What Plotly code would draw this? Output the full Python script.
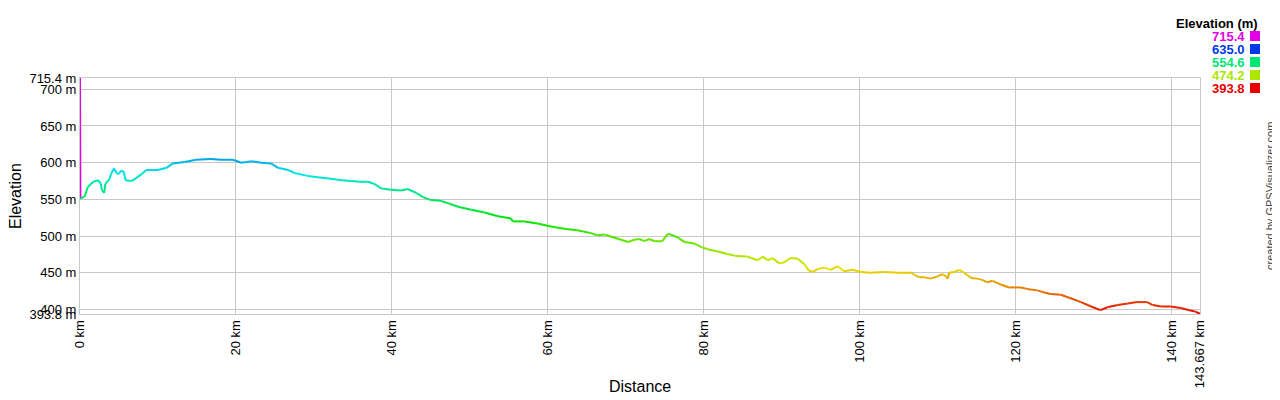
import plotly.graph_objects as go
from plotly.colors import sample_colorscale

# ---- data (distance in km, elevation in m) ----
distance_km = [0.0, 0.05, 0.6, 1.0, 1.7, 2.3, 2.65, 2.8, 3.1, 3.25, 3.8, 4.0, 4.35, 4.65, 4.85,
               5.3, 5.6, 5.85, 6.6, 7.2, 7.85, 8.5, 10.0, 11.1, 11.9, 13.4, 14.9, 16.8, 18.1,
               19.6, 20.7, 22.0, 23.2, 24.5, 25.4, 26.7, 27.5, 29.2, 30.5, 32.2, 33.5, 34.8,
               35.9, 36.9, 37.8, 38.6, 39.9, 41.2, 42.05, 43.1, 44.0, 45.0, 46.3, 47.4, 48.5,
               50.2, 51.9, 53.6, 55.3, 55.5, 57.0, 58.7, 60.4, 62.1, 63.8, 65.55, 66.4, 67.3,
               68.5, 70.3, 71.1, 71.75, 72.4, 73.0, 73.7, 74.7, 75.4, 75.8, 76.7, 77.5, 78.8,
               79.7, 80.5, 81.8, 82.9, 84.1, 85.6, 86.9, 87.6, 88.2, 88.8, 89.7, 90.3, 91.1,
               92.05, 92.9, 93.5, 94.0, 94.6, 95.5, 96.3, 97.2, 98.0, 99.1, 100.2, 101.4,
               103.2, 104.9, 106.6, 107.2, 107.65, 108.3, 109.1, 110.0, 110.6, 111.1, 111.3,
               111.5, 112.15, 112.8, 113.4, 114.3, 115.1, 115.8, 116.4, 117.05, 118.1, 119.2,
               120.7, 121.5, 122.8, 123.7, 124.5, 125.8, 126.9, 128.4, 129.7, 130.9, 131.8,
               133.1, 134.4, 135.6, 136.9, 137.6, 138.7, 139.9, 141.2, 142.3, 143.1, 143.667]
elevation_m = [715.4, 551, 554, 567, 574, 576, 572, 563, 559, 571, 578, 585, 592, 587, 584,
               589, 588, 576, 575, 579, 584, 590, 590, 593, 599, 601, 604, 605, 604,
               604, 600, 602, 600, 599, 593, 590, 586, 582, 580, 578, 576, 575,
               574, 574, 571, 565, 563, 562, 564, 559, 553, 549, 548, 544, 540,
               536, 532, 527, 524, 520, 520, 517, 513, 510, 508, 504, 501, 502,
               498, 492, 495, 496, 493, 496, 493, 493, 503, 502, 498, 492, 490,
               485, 482, 479, 476, 473, 472, 467, 472, 467, 470, 463, 464, 470,
               469, 462, 453, 451, 455, 457, 454, 459, 452, 454, 451, 450,
               451, 450, 450, 446, 444, 444, 442, 445, 448, 445, 442,
               450, 451, 454, 450, 443, 442, 440, 437, 439, 434, 430,
               430, 428, 426, 423, 421, 420, 416, 410, 404, 399, 403,
               406, 408, 410, 410, 406, 404, 404, 402, 399, 397, 393.8]

elev_min = 393.8
elev_max = 715.4
legend_values = [715.4, 635.0, 554.6, 474.2, 393.8]
y_tick_vals = [393.8, 400, 450, 500, 550, 600, 650, 700, 715.4]
y_tick_text = ["393.8 m", "400 m", "450 m", "500 m", "550 m", "600 m", "650 m", "700 m", "715.4 m"]
x_tick_vals = [0, 20, 40, 60, 80, 100, 120, 140, 143.667]
x_tick_text = ["0 km", "20 km", "40 km", "60 km", "80 km", "100 km", "120 km", "140 km", "143.667 km"]

# hue-wheel colour scale: red -> yellow -> green -> cyan -> blue -> magenta
colorscale = [
    [0.0, "#e60000"],
    [0.2, "#e6e600"],
    [0.4, "#00e600"],
    [0.6, "#00e6e6"],
    [0.8, "#0000e6"],
    [1.0, "#e600e6"],
]


def color_for(v):
    t = (v - elev_min) / (elev_max - elev_min)
    t = min(max(t, 0.0), 1.0)
    return sample_colorscale(colorscale, [t], colortype="rgb")[0]


FONT = "Liberation Sans, Arial, sans-serif"

fig = go.Figure()
for i in range(len(distance_km) - 1):
    fig.add_trace(go.Scatter(
        x=[distance_km[i], distance_km[i + 1]],
        y=[elevation_m[i], elevation_m[i + 1]],
        mode="lines",
        line=dict(color=color_for(elevation_m[i]), width=2),
        showlegend=False,
        hoverinfo="skip",
    ))

# page has an 8px body margin, so the figure is sized/placed to compensate
fig.update_layout(
    width=1272, height=392,
    margin=dict(l=72, r=80, t=70, b=80),
    paper_bgcolor="white", plot_bgcolor="white",
    font=dict(family=FONT, size=13, color="#000"),
    showlegend=False,
)
fig.update_xaxes(
    range=[0, 143.667], tickvals=x_tick_vals, ticktext=x_tick_text,
    tickangle=-90, showgrid=True, gridcolor="#c8c8c8", gridwidth=1,
    showline=True, mirror=True, linecolor="#c8c8c8", linewidth=1,
    ticks="", zeroline=False, tickfont=dict(size=13, family=FONT),
)
fig.update_yaxes(
    range=[elev_min, elev_max], tickvals=y_tick_vals, ticktext=y_tick_text,
    showgrid=True, gridcolor="#c8c8c8", gridwidth=1,
    showline=True, mirror=True, linecolor="#c8c8c8", linewidth=1,
    ticks="", zeroline=False, tickfont=dict(size=13, family=FONT),
)

# axis titles
fig.add_annotation(text="Distance", xref="paper", yref="paper", x=0.5, y=0,
                   yshift=-72, showarrow=False, font=dict(size=16, family=FONT),
                   xanchor="center", yanchor="middle")
fig.add_annotation(text="Elevation", xref="paper", yref="paper", x=0, y=0.5,
                   xshift=-65, showarrow=False, textangle=-90,
                   font=dict(size=16, family=FONT), xanchor="center", yanchor="middle")

# colour legend
fig.add_annotation(text="<b>Elevation (m)</b>", xref="paper", yref="paper",
                   x=1, xshift=60, y=1, yshift=55, showarrow=False,
                   xanchor="right", yanchor="middle", font=dict(size=13, family=FONT))
row_shifts = [42, 29, 16, 3, -10]
for v, ys in zip(legend_values, row_shifts):
    c = color_for(v)
    fig.add_annotation(text="<b>%.1f</b>" % v, xref="paper", yref="paper",
                       x=1, xshift=47, y=1, yshift=ys, showarrow=False,
                       xanchor="right", yanchor="middle",
                       font=dict(size=13, family=FONT, color=c))
    fig.add_shape(type="rect", xref="paper", yref="paper",
                  xsizemode="pixel", ysizemode="pixel", xanchor=1, yanchor=1,
                  x0=50, x1=60, y0=ys - 5, y1=ys + 5,
                  fillcolor=c, line=dict(width=0))

fig.add_annotation(text="created by GPSVisualizer.com", xref="paper", yref="paper",
                   x=1, xshift=70, y=0.5, yshift=0, showarrow=False, textangle=-90,
                   xanchor="center", yanchor="middle",
                   font=dict(size=11, family=FONT, color="#444"))

fig.write_html("out.html")
